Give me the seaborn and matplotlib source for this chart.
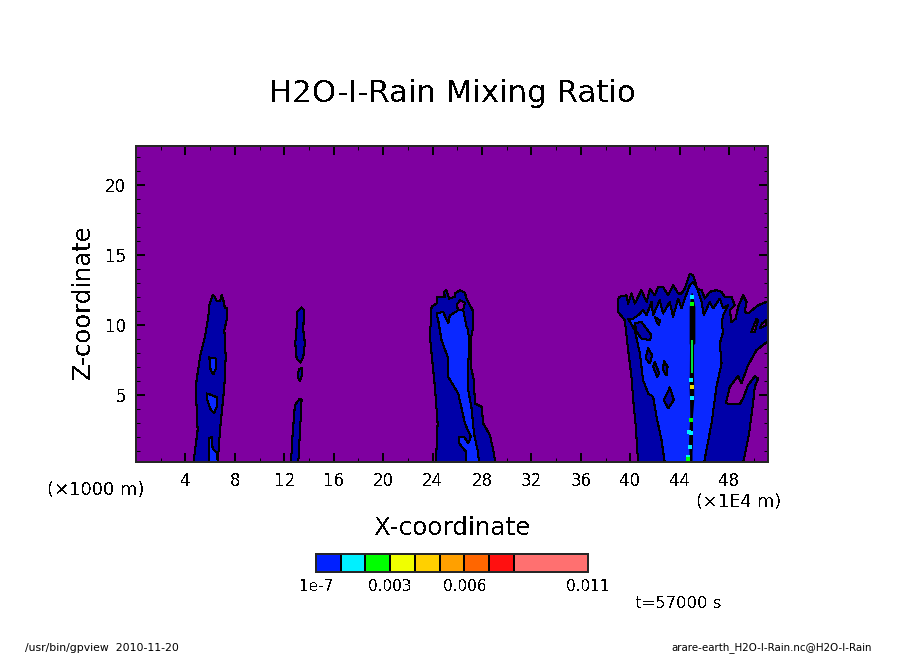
import matplotlib
matplotlib.use("Agg")
import matplotlib.pyplot as plt
import seaborn as sns

# colours of the shaded levels
purple = "#7F00A0"
dark_blue = "#0000A8"
blue = "#0A28FF"

# plume near x=6
plume_a_x = [4.64, 4.99, 4.83, 5.18, 5.58, 5.85, 5.93, 6.2, 6.39, 6.53, 6.8, 6.93, 7.07, 7.2, 7.39, 7.39, 7.15, 7.26, 7.15, 6.8, 6.61]
plume_a_z = [0.1, 2.49, 5.58, 7.72, 9.15, 10.58, 11.41, 12.13, 12.01, 11.72, 11.72, 12.13, 11.77, 11.18, 11.18, 10.58, 9.63, 7.72, 5.58, 2.49, 0.1]
spot_a1_x = [5.93, 6.47, 6.47, 6.26, 6.04]
spot_a1_z = [7.68, 7.6, 6.89, 6.46, 6.77]
spot_a2_x = [5.72, 6.12, 6.58, 6.53, 6.31, 5.99, 5.77]
spot_a2_z = [5.1, 4.99, 4.82, 4.15, 3.68, 4.04, 4.63]
spot_a3_x = [5.93, 6.12, 6.2, 6.58, 6.61, 5.93]
spot_a3_z = [1.89, 2.01, 1.18, 0.82, 0.1, 0.1]

# broken plume near x=13
plume_b1_x = [13.05, 13.4, 13.59, 13.54, 13.67, 13.54, 13.32, 13.0, 12.89, 13.0]
plume_b1_z = [10.94, 11.25, 11.06, 9.63, 8.68, 7.72, 7.3, 7.6, 8.68, 9.87]
plume_b2_x = [13.21, 13.46, 13.43, 13.27, 13.13, 13.13]
plume_b2_z = [6.82, 6.94, 6.41, 5.99, 6.18, 6.65]
plume_b3_x = [12.54, 12.68, 12.86, 13.21, 13.4, 13.35, 13.13]
plume_b3_z = [0.1, 2.25, 4.27, 4.68, 4.68, 3.68, 0.1]

# plume near x=26
plume_c_x = [24.27, 24.41, 24.19, 24.0, 23.79, 23.92, 24.33, 24.38, 25.0, 24.92, 25.13, 25.35, 25.81, 25.81, 26.21, 26.62, 26.75, 26.89, 27.24, 27.29, 27.08, 27.1, 27.35, 27.43, 27.97, 28.1, 28.64, 28.91, 29.1]
plume_c_z = [0.1, 2.96, 5.58, 7.25, 9.15, 11.3, 11.54, 12.01, 12.01, 12.37, 12.49, 11.89, 12.01, 12.25, 12.49, 12.3, 11.89, 11.65, 11.06, 9.87, 8.91, 7.01, 6.06, 4.39, 4.15, 2.96, 2.13, 1.06, 0.1]
gap_c_x = [25.94, 26.21, 26.62, 26.48, 26.08]
gap_c_z = [11.41, 11.77, 11.58, 11.11, 11.06]
core_c_x = [26.75, 26.7, 26.16, 26.16, 26.54, 26.89, 27.1, 26.62, 26.08, 25.27, 25.22, 24.73, 24.46, 24.33, 24.86, 25.27, 25.4, 25.67, 26.08, 26.48, 26.75, 26.89, 26.97, 26.89, 26.89, 27.16, 27.35, 27.7, 27.75]
core_c_z = [0.1, 0.94, 1.53, 2.01, 2.01, 1.53, 2.01, 2.96, 5.1, 6.29, 7.72, 8.91, 10.34, 10.82, 10.94, 10.11, 10.7, 10.82, 11.06, 11.06, 9.87, 9.63, 8.44, 7.25, 5.34, 4.04, 2.25, 0.82, 0.1]

# big storm near x=45, reaches the right edge
plume_d_x = [40.64, 40.45, 40.24, 40.1, 39.83, 39.56, 39.02, 39.0, 39.1, 39.7, 39.83, 40.1, 40.37, 40.91, 41.32, 41.59, 41.99, 42.26, 42.66, 43.07, 43.47, 43.88, 44.15, 44.42, 44.82, 45.09, 45.42, 45.77, 46.04, 46.44, 46.98, 47.39, 47.65, 48.19, 48.46, 48.06, 48.19, 48.54, 48.73, 49.14, 49.41, 49.27, 49.54, 50.35, 51.03, 51.5, 51.5, 51.07, 50.22, 49.54, 49.0, 48.73, 48.06, 47.73, 48.87, 49.13, 49.54, 50.08, 50.35, 50.08, 49.94, 49.62, 49.13]
plume_d_z = [0.1, 2.72, 4.63, 6.29, 8.2, 10.34, 10.94, 11.77, 12.01, 12.13, 11.53, 12.25, 11.53, 12.49, 11.65, 12.56, 12.13, 12.72, 12.72, 12.13, 12.84, 12.25, 12.25, 12.6, 13.68, 13.56, 12.6, 12.49, 11.89, 12.37, 12.49, 12.37, 12.01, 12.01, 11.41, 11.06, 10.22, 10.46, 11.29, 12.13, 11.65, 10.94, 10.82, 11.41, 11.65, 11.65, 8.79, 8.79, 8.2, 7.13, 5.82, 6.34, 5.58, 4.39, 4.34, 4.75, 5.7, 6.34, 6.18, 5.58, 4.39, 2.25, 0.1]
core_d_x = [42.8, 42.53, 42.13, 41.85, 41.45, 41.04, 40.78, 40.37, 39.83, 40.24, 40.64, 41.04, 41.32, 41.72, 41.85, 42.39, 42.66, 43.2, 43.47, 43.88, 44.15, 44.42, 44.82, 45.09, 45.42, 45.77, 45.96, 46.44, 46.71, 47.25, 47.52, 47.92, 47.52, 47.39, 47.52, 47.25, 47.39, 46.98, 46.58, 46.17, 45.96]
core_d_z = [0.1, 1.77, 3.44, 4.87, 5.1, 6.06, 7.96, 9.63, 10.46, 10.46, 10.7, 11.06, 10.7, 11.65, 10.7, 11.77, 10.82, 11.65, 10.58, 11.89, 11.18, 11.89, 12.84, 13.08, 12.6, 11.65, 10.7, 11.65, 11.18, 11.89, 11.18, 11.41, 10.7, 10.11, 9.51, 8.68, 7.25, 5.58, 2.96, 1.06, 0.1]
gap_d1_x = [49.81, 50.22, 50.35, 50.08]
gap_d1_z = [9.51, 10.46, 10.34, 9.51]
gap_d2_x = [50.49, 51.03, 51.03, 50.65]
gap_d2_z = [9.75, 9.99, 10.34, 10.1]
spot_d_x = [
    [40.37, 40.91, 41.72, 41.59, 40.91, 40.51],
    [41.45, 41.78, 41.59, 41.24],
    [41.99, 42.34, 42.18, 41.85],
    [42.72, 43.02, 42.94, 42.66],
    [43.2, 43.53, 43.07, 42.72],
    [41.99, 42.4, 42.34, 42.13],
]
spot_d_z = [
    [10.11, 10.22, 9.27, 8.91, 9.03, 9.51],
    [8.32, 7.84, 7.25, 7.6],
    [7.36, 6.53, 6.29, 7.01],
    [7.44, 7.01, 6.39, 6.77],
    [5.53, 4.63, 4.04, 4.63],
    [10.58, 10.34, 9.99, 10.22],
]

# unresolved narrow column at x=45
spine_z = [12.3, 11.3, 8.7, 8.6, 6.5, 5.5, 4.6, 3.5, 2.6, 1.7, 0.9, 0.1]
spine_left = [44.92, 44.77, 44.77, 44.8, 44.78, 44.76, 44.8, 44.82, 44.76, 44.72, 44.76, 44.76]
spine_right = [45.02, 45.23, 45.23, 45.12, 45.12, 45.14, 45.14, 45.04, 45.04, 45.04, 45.0, 45.0]
green_x = [44.9, 45.06, 45.06, 44.9]
green_z = [8.91, 8.91, 6.53, 6.53]
cyan_x = [44.88, 44.96, 44.77, 44.88, 44.82, 44.68, 44.96]
cyan_z = [6.06, 4.75, 2.37, 2.25, 1.29, 0.58, 12.01]
yellow_x = [44.96]
yellow_z = [5.58]
lime_x = [44.88, 44.68, 44.96]
lime_z = [3.2, 0.42, 11.53]

# colour bar
bar_levels = [1e-7, 0.001, 0.002, 0.003, 0.004, 0.005, 0.006, 0.007, 0.008, 0.011]
bar_colors = ["#0020FF", "#00F0FF", "#00FF00", "#F0FF00", "#FFD000", "#FFA000", "#FF6600", "#FF1010", "#FF7070"]
bar_ticks = [1e-7, 0.003, 0.006, 0.011]
bar_tick_labels = ["1e-7", "0.003", "0.006", "0.011"]

x_ticks = [4, 8, 12, 16, 20, 24, 28, 32, 36, 40, 44, 48]
z_ticks = [5, 10, 15, 20]


def region(ax, xs, zs, color):
    ax.fill(xs, zs, color=color, lw=0, zorder=2)
    sns.lineplot(x=xs + xs[:1], y=zs + zs[:1], sort=False, estimator=None,
                 color="black", lw=0.75, legend=False, ax=ax, zorder=3)


sns.set_theme(style="ticks", rc={
    "text.antialiased": False,
    "lines.antialiased": False,
    "patch.antialiased": False,
    "text.color": "black",
    "axes.labelcolor": "black",
    "xtick.color": "black",
    "ytick.color": "black",
})

W, H = 904, 654
fig = plt.figure(figsize=(W / 100, H / 100), dpi=100)
ax = fig.add_axes([136 / W, 1 - 462 / H, 632 / W, 316 / H], facecolor=purple)

region(ax, plume_a_x, plume_a_z, dark_blue)
for xs, zs in [(spot_a1_x, spot_a1_z), (spot_a2_x, spot_a2_z), (spot_a3_x, spot_a3_z)]:
    region(ax, xs, zs, blue)

for xs, zs in [(plume_b1_x, plume_b1_z), (plume_b2_x, plume_b2_z), (plume_b3_x, plume_b3_z)]:
    region(ax, xs, zs, dark_blue)

region(ax, plume_c_x, plume_c_z, dark_blue)
region(ax, gap_c_x, gap_c_z, purple)
region(ax, core_c_x, core_c_z, blue)

region(ax, plume_d_x, plume_d_z, dark_blue)
region(ax, gap_d1_x, gap_d1_z, purple)
region(ax, gap_d2_x, gap_d2_z, purple)
region(ax, core_d_x, core_d_z, blue)
for xs, zs in zip(spot_d_x, spot_d_z):
    region(ax, xs, zs, dark_blue)

ax.fill_betweenx(spine_z, spine_left, spine_right, color="black", lw=0, zorder=4)
ax.fill(green_x, green_z, color="#00E040", lw=0, zorder=5)
for xs, zs, c in [(cyan_x, cyan_z, "#00F0FF"), (yellow_x, yellow_z, "#F0E000"), (lime_x, lime_z, "#00FF00")]:
    sns.scatterplot(x=xs, y=zs, color=c, marker="s", s=7, linewidth=0, legend=False, ax=ax, zorder=6)

ax.set_xlim(0, 51.15)
ax.set_ylim(0.2, 22.8)
ax.set_xticks(x_ticks)
ax.set_yticks(z_ticks)
ax.set_xticks(range(2, 52, 2), minor=True)
ax.set_yticks(range(1, 23), minor=True)
ax.tick_params(which="major", direction="in", length=6.5, width=1.4, top=True, right=True,
               labelsize=12, pad=7)
ax.tick_params(which="minor", direction="in", length=3.2, width=0.7, top=True, right=True)
for spine in ax.spines.values():
    spine.set_linewidth(1.44)
    spine.set_zorder(10)

fig.text(452 / W, 1 - 94 / H, "H2O-I-Rain Mixing Ratio", fontsize=22.2, ha="center", va="center")
fig.text(452 / W, 1 - 528 / H, "X-coordinate", fontsize=17.7, ha="center", va="center")
fig.text(83 / W, 1 - 302 / H, "Z-coordinate", fontsize=17.5, ha="center", va="center", rotation=90)
fig.text(96 / W, 1 - 490 / H, "(×1000 m)", fontsize=13, ha="center", va="center")
fig.text(739 / W, 1 - 502 / H, "(×1E4 m)", fontsize=12.8, ha="center", va="center")
fig.text(678 / W, 1 - 603 / H, "t=57000 s", fontsize=11.8, ha="center", va="center")
fig.text(25 / W, 1 - 648 / H, "/usr/bin/gpview  2010-11-20", fontsize=7.8, ha="left", va="center", antialiased=True)
fig.text(872 / W, 1 - 648 / H, "arare-earth_H2O-I-Rain.nc@H2O-I-Rain", fontsize=7.4, ha="right", va="center", antialiased=True)

cax = fig.add_axes([316 / W, 1 - 572 / H, 272 / W, 18 / H])
lefts = bar_levels[:-1]
widths = [b - a for a, b in zip(bar_levels[:-1], bar_levels[1:])]
cax.barh([0] * len(widths), widths, left=lefts, height=1, color=bar_colors, edgecolor="black", linewidth=1.1)
cax.set_xlim(bar_levels[0], bar_levels[-1])
cax.set_ylim(-0.5, 0.5)
cax.set_yticks([])
cax.set_xticks(bar_ticks)
cax.set_xticklabels(bar_tick_labels)
cax.tick_params(axis="x", length=0, labelsize=11, pad=5)
for spine in cax.spines.values():
    spine.set_linewidth(1.44)

fig.savefig("out.png", dpi=100)
